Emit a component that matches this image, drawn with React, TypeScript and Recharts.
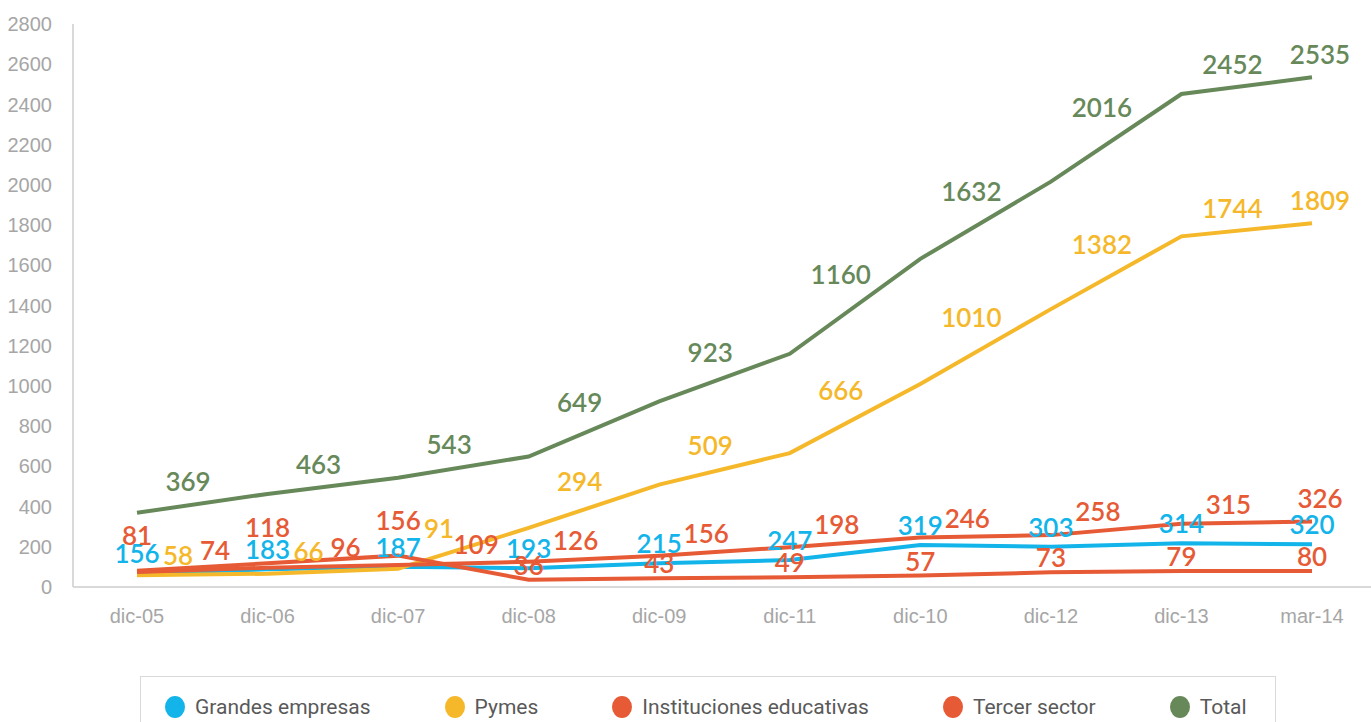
import React from "react";
import { LineChart, Line, XAxis, YAxis, Legend, LabelList } from "recharts";

const categories = ["dic-05", "dic-06", "dic-07", "dic-08", "dic-09", "dic-11", "dic-10", "dic-12", "dic-13", "mar-14"];

// drawn line of Grandes empresas sits lower than its printed labels
const grandesLine = [68, 88, 101, 93, 118, 134, 209, 200, 217, 212];
const grandesLabels = [156, 183, 187, 193, 215, 247, 319, 303, 314, 320];
const pymes = [58, 66, 91, 294, 509, 666, 1010, 1382, 1744, 1809];
const instituciones = [74, 96, 109, 126, 156, 198, 246, 258, 315, 326];
const tercerSector = [81, 118, 156, 36, 43, 49, 57, 73, 79, 80];
const total = [369, 463, 543, 649, 923, 1160, 1632, 2016, 2452, 2535];

const yTicks = [0, 200, 400, 600, 800, 1000, 1200, 1400, 1600, 1800, 2000, 2200, 2400, 2600, 2800];

const BLUE = "#12B4EA";
const YELLOW = "#F5B82A";
const RED = "#E65A35";
const GREEN = "#67895A";

const data = categories.map((cat, i) => ({
  cat,
  grandes: grandesLine[i],
  grandesLbl: grandesLabels[i],
  pymes: pymes[i],
  instituciones: instituciones[i],
  tercer: tercerSector[i],
  total: total[i],
}));

const STEP = 130.4;
const PX_PER_UNIT = 563 / 2800;
const labelFont = { fontFamily: "Lato, 'Open Sans', sans-serif", fontSize: 26, fontWeight: 600 };

// label to the right of the point, kept above the rising line; last one sits above
const sideLabel = (values: number[], color: string, dx: (i: number) => number, gap: number) => (props: any) => {
  const { x, y, index, value } = props;
  if (x == null || y == null) return null;
  let lx = x + 8;
  let ly = y - 23;
  if (index < values.length - 1) {
    const d = dx(index);
    const rise = (values[index + 1] - values[index]) * (d / STEP) * PX_PER_UNIT;
    lx = x + d;
    ly = y - rise - gap - 0.6 * rise;
  }
  return (
    <text x={lx} y={ly} fill={color} textAnchor="middle" dominantBaseline="central" style={labelFont}>
      {value}
    </text>
  );
};

const aboveLabel = (color: string, dy: (i: number) => number) => (props: any) => {
  const { x, y, index, value } = props;
  if (x == null || y == null) return null;
  return (
    <text x={x} y={y + dy(index)} fill={color} textAnchor="middle" dominantBaseline="central" style={labelFont}>
      {value}
    </text>
  );
};

const legendItems = [
  { name: "Grandes empresas", color: BLUE },
  { name: "Pymes", color: YELLOW },
  { name: "Instituciones educativas", color: RED },
  { name: "Tercer sector", color: RED },
  { name: "Total", color: GREEN },
];

const renderLegend = () => (
  <div
    style={{
      height: 52,
      boxSizing: "border-box",
      border: "1px solid #d9d9d9",
      display: "flex",
      alignItems: "flex-start",
      paddingLeft: 24,
      paddingTop: 18,
      gap: 74,
      whiteSpace: "nowrap",
      fontFamily: "Roboto, 'Liberation Sans', sans-serif",
      fontSize: 21,
      lineHeight: "24px",
      color: "#595959",
    }}
  >
    {legendItems.map((it) => (
      <div key={it.name} style={{ display: "flex", alignItems: "center" }}>
        <span
          style={{
            display: "inline-block",
            width: 20,
            height: 22,
            borderRadius: "50%",
            background: it.color,
            marginRight: 10,
          }}
        />
        <span>{it.name}</span>
      </div>
    ))}
  </div>
);

const tickStyle = { fill: "#a6a6a6", fontSize: 20, fontFamily: "'Liberation Sans', Arial, sans-serif" };

export default function App() {
  return (
    <div style={{ position: "absolute", left: 0, top: 0, width: 1371, height: 722, background: "#fff", overflow: "hidden" }}>
      <LineChart width={1371} height={722} data={data} margin={{ top: 24, right: 0, bottom: 0, left: 0 }}>
        <XAxis
          dataKey="cat"
          axisLine={{ stroke: "#d9d9d9", strokeWidth: 2 }}
          tickLine={false}
          tickSize={0}
          tickMargin={22}
          height={83}
          padding={{ left: 64, right: 59 }}
          tick={tickStyle}
        />
        <YAxis
          domain={[0, 2800]}
          ticks={yTicks}
          width={73}
          axisLine={{ stroke: "#d9d9d9", strokeWidth: 2 }}
          tickLine={false}
          tickSize={0}
          tickMargin={21}
          tick={tickStyle}
        />
        <Legend
          verticalAlign="bottom"
          content={renderLegend}
          wrapperStyle={{ left: 140, width: 1136, bottom: -6 }}
        />
        <Line dataKey="grandes" name="Grandes empresas" stroke={BLUE} strokeWidth={4} dot={false} isAnimationActive={false}>
          <LabelList dataKey="grandesLbl" content={aboveLabel(BLUE, () => -20)} />
        </Line>
        <Line dataKey="pymes" name="Pymes" stroke={YELLOW} strokeWidth={4} dot={false} isAnimationActive={false}>
          <LabelList dataKey="pymes" content={sideLabel(pymes, YELLOW, (i) => (i < 3 ? 41 : 51), 20)} />
        </Line>
        <Line dataKey="instituciones" name="Instituciones educativas" stroke={RED} strokeWidth={4} dot={false} isAnimationActive={false}>
          <LabelList dataKey="instituciones" content={sideLabel(instituciones, RED, (i) => (i < 3 ? 78 : 47), 18)} />
        </Line>
        <Line dataKey="tercer" name="Tercer sector" stroke={RED} strokeWidth={4} dot={false} isAnimationActive={false}>
          <LabelList dataKey="tercer" content={aboveLabel(RED, (i) => (i < 3 ? -36 : -15))} />
        </Line>
        <Line dataKey="total" name="Total" stroke={GREEN} strokeWidth={4} dot={false} isAnimationActive={false}>
          <LabelList dataKey="total" content={sideLabel(total, GREEN, () => 51, 20)} />
        </Line>
      </LineChart>
    </div>
  );
}
